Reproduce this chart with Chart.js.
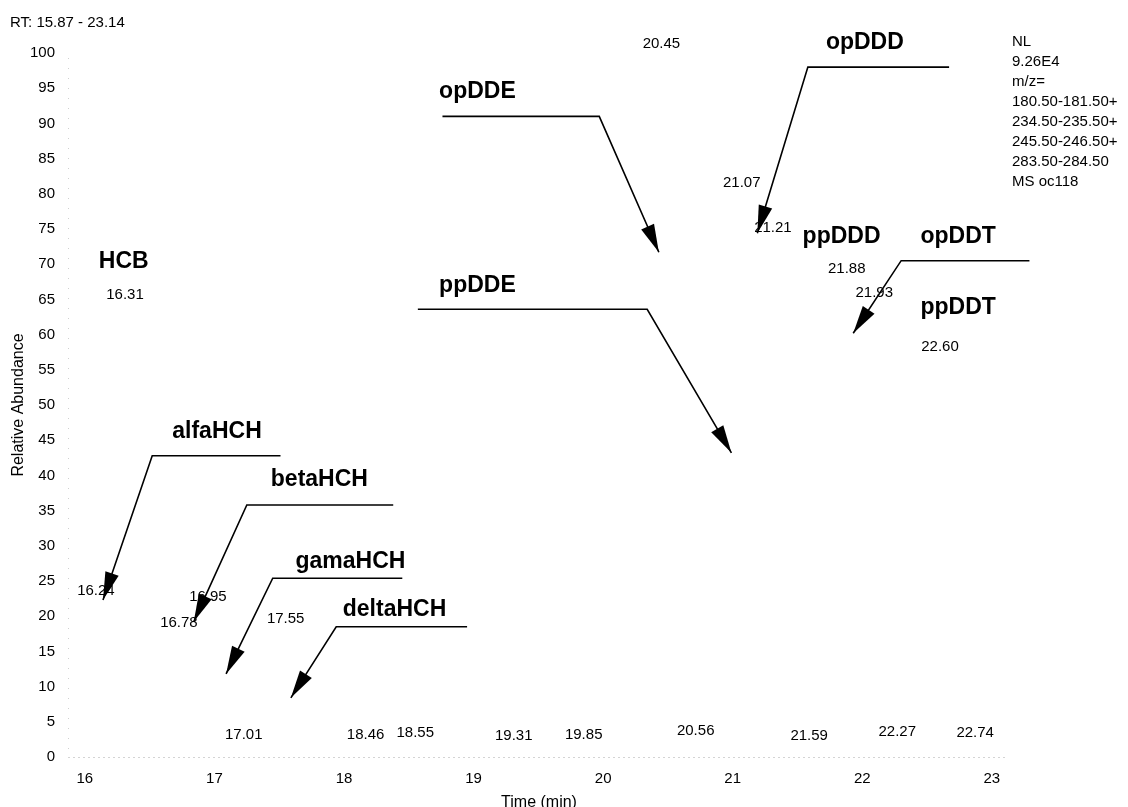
<!DOCTYPE html>
<html>
<head>
<meta charset="utf-8">
<script src="https://cdn.jsdelivr.net/npm/chart.js@4.4.1/dist/chart.umd.min.js"></script>
<style>
  html, body { margin: 0; padding: 0; background: #ffffff; }
  canvas { display: block; }
</style>
</head>
<body>
<canvas id="tic" width="1128" height="807"></canvas>
<script>
// Retention-time window of the trace (minutes)
const rtMin = 15.87;
const rtMax = 23.14;

// Axis ticks
const xTicks = [16, 17, 18, 19, 20, 21, 22, 23];
const yTicks = [0, 5, 10, 15, 20, 25, 30, 35, 40, 45, 50, 55, 60, 65, 70, 75, 80, 85, 90, 95, 100];

// Labelled peaks: retention time (min) and apex relative abundance (%)
const peakRT = [16.24, 16.31, 16.78, 16.95, 17.01, 17.55, 18.46, 18.55, 19.31, 19.85,
                20.45, 20.56, 21.07, 21.21, 21.59, 21.88, 21.93, 22.27, 22.60, 22.74];
const peakAbundance = [22.3, 64.3, 17.8, 21.4, 1.8, 18.3, 1.8, 2.1, 1.7, 1.8,
                       100, 2.4, 80.3, 73.9, 1.7, 68.0, 64.6, 2.3, 57.0, 2.1];

// Compound names
const compounds = ['HCB', 'alfaHCH', 'betaHCH', 'gamaHCH', 'deltaHCH',
                   'opDDE', 'ppDDE', 'opDDD', 'ppDDD', 'opDDT', 'ppDDT'];

// Acquisition info block
const scanInfo = ['NL', '9.26E4', 'm/z=', '180.50-181.50+', '234.50-235.50+',
                  '245.50-246.50+', '283.50-284.50', 'MS oc118'];

// ---- layout / styling (not data) ----
const FONT = '"Liberation Sans", Arial, Helvetica, sans-serif';

// horizontal nudges (px) that keep crowded peak labels apart
const peakLabelShift = { '16.24': -20, '16.78': -7, '17.01': 28, '18.46': -38,
                         '20.56': 20, '21.21': 13, '21.93': 21, '22.74': 17 };

// name position and leader line (in rt / abundance units); last point is the arrow tip
const compoundCallouts = {
  HCB:      { at: [16.30, 70.4] },
  alfaHCH:  { at: [17.02, 46.2], path: [[17.51, 42.8], [16.52, 42.8], [16.14, 22.3]] },
  betaHCH:  { at: [17.81, 39.4], path: [[18.38, 35.8], [17.25, 35.8], [16.84, 19.2]] },
  gamaHCH:  { at: [18.05, 27.7], path: [[18.45, 25.4], [17.45, 25.4], [17.09, 11.8]] },
  deltaHCH: { at: [18.39, 20.9], path: [[18.95, 18.5], [17.94, 18.5], [17.59, 8.4]] },
  opDDE:    { at: [19.03, 94.5], path: [[18.76, 91.0], [19.97, 91.0], [20.43, 71.7]] },
  ppDDE:    { at: [19.03, 67.0], path: [[18.57, 63.6], [20.34, 63.6], [20.99, 43.2]] },
  opDDD:    { at: [22.02, 101.4], path: [[22.67, 98.0], [21.58, 98.0], [21.19, 74.4]] },
  ppDDD:    { at: [21.84, 73.9] },
  opDDT:    { at: [22.74, 73.9], path: [[23.29, 70.5], [22.30, 70.5], [21.93, 60.2]] },
  ppDDT:    { at: [22.74, 63.8] }
};

function drawArrowHead(ctx, from, tip, len, halfW) {
  const dx = tip.x - from.x, dy = tip.y - from.y;
  const d = Math.hypot(dx, dy);
  const ux = dx / d, uy = dy / d;
  const bx = tip.x - ux * len, by = tip.y - uy * len;
  ctx.beginPath();
  ctx.moveTo(tip.x, tip.y);
  ctx.lineTo(bx - uy * halfW, by + ux * halfW);
  ctx.lineTo(bx + uy * halfW, by - ux * halfW);
  ctx.closePath();
  ctx.fill();
}

// faint dotted axis lines along the left and bottom of the plot area
const dottedAxes = {
  id: 'dottedAxes',
  beforeDatasetsDraw(chart) {
    const { ctx, chartArea: a } = chart;
    ctx.save();
    ctx.lineWidth = 1;
    ctx.strokeStyle = '#a8a8a8';
    ctx.setLineDash([1, 4]);
    ctx.beginPath();
    ctx.moveTo(a.left + 0.5, a.bottom + 0.5);
    ctx.lineTo(a.right - 3, a.bottom + 0.5);
    ctx.stroke();
    ctx.strokeStyle = '#d0d0d0';
    ctx.setLineDash([1, 9]);
    ctx.beginPath();
    ctx.moveTo(a.left + 0.5, a.bottom - 8);
    ctx.lineTo(a.left + 0.5, a.top);
    ctx.stroke();
    ctx.restore();
  }
};

const annotations = {
  id: 'chromLabels',
  afterDatasetsDraw(chart) {
    const ctx = chart.ctx;
    const xs = chart.scales.x, ys = chart.scales.y;
    ctx.save();
    ctx.fillStyle = '#000';
    ctx.strokeStyle = '#000';

    // range header
    ctx.font = '15px ' + FONT;
    ctx.textAlign = 'left';
    ctx.textBaseline = 'middle';
    ctx.fillText('RT: ' + rtMin.toFixed(2) + ' - ' + rtMax.toFixed(2), 10, 23);

    // acquisition info
    scanInfo.forEach((t, i) => ctx.fillText(t, 1012, 42 + i * 20));

    // retention-time labels above each peak apex
    const meta = chart.getDatasetMeta(0);
    ctx.textAlign = 'center';
    ctx.textBaseline = 'middle';
    meta.data.forEach((pt, i) => {
      const txt = peakRT[i].toFixed(2);
      const dx = peakLabelShift[txt] || 0;
      ctx.fillText(txt, pt.x + dx, pt.y - 9);
    });

    // compound names with leader lines and arrows
    ctx.font = 'bold 23px ' + FONT;
    ctx.lineWidth = 1.6;
    ctx.lineJoin = 'miter';
    compounds.forEach(name => {
      const c = compoundCallouts[name];
      ctx.fillText(name, xs.getPixelForValue(c.at[0]), ys.getPixelForValue(c.at[1]));
      if (!c.path) return;
      const pts = c.path.map(p => ({ x: xs.getPixelForValue(p[0]), y: ys.getPixelForValue(p[1]) }));
      ctx.beginPath();
      ctx.moveTo(pts[0].x, pts[0].y);
      for (let k = 1; k < pts.length; k++) ctx.lineTo(pts[k].x, pts[k].y);
      ctx.stroke();
      drawArrowHead(ctx, pts[pts.length - 2], pts[pts.length - 1], 28, 7);
    });
    ctx.restore();
  }
};

new Chart(document.getElementById('tic'), {
  type: 'scatter',
  data: {
    datasets: [{
      label: 'TIC',
      data: peakRT.map((rt, i) => ({ x: rt, y: peakAbundance[i] })),
      pointRadius: 0,
      pointHoverRadius: 0,
      showLine: false
    }]
  },
  options: {
    responsive: false,
    animation: false,
    devicePixelRatio: 1,
    events: [],
    layout: { padding: { top: 53, right: 118, bottom: 0, left: 0 } },
    plugins: { legend: { display: false }, tooltip: { enabled: false } },
    scales: {
      x: {
        type: 'linear',
        min: rtMin,
        max: rtMax,
        afterBuildTicks: s => { s.ticks = xTicks.map(v => ({ value: v })); },
        afterFit: s => { s.height = 50; },
        grid: { display: false, drawTicks: false },
        border: { display: false },
        ticks: { padding: 13, color: '#000', font: { family: FONT, size: 15, lineHeight: 1.2 },
                 callback: v => String(v), maxRotation: 0, autoSkip: false },
        title: { display: true, text: 'Time (min)', color: '#000',
                 font: { family: FONT, size: 16, lineHeight: 0.5 }, padding: 0 }
      },
      y: {
        type: 'linear',
        min: 0,
        max: 100,
        afterBuildTicks: s => { s.ticks = yTicks.map(v => ({ value: v })); },
        afterFit: s => { s.width = 68; },
        grid: { display: false, drawTicks: false },
        border: { display: false },
        ticks: { padding: 13, color: '#000', font: { family: FONT, size: 15, lineHeight: 1.2 },
                 callback: v => String(v), autoSkip: false },
        title: { display: true, text: 'Relative Abundance', color: '#000',
                 font: { family: FONT, size: 16, lineHeight: 1.2 }, padding: { top: 9, bottom: 0 } }
      }
    }
  },
  plugins: [dottedAxes, annotations]
});
</script>
</body>
</html>
